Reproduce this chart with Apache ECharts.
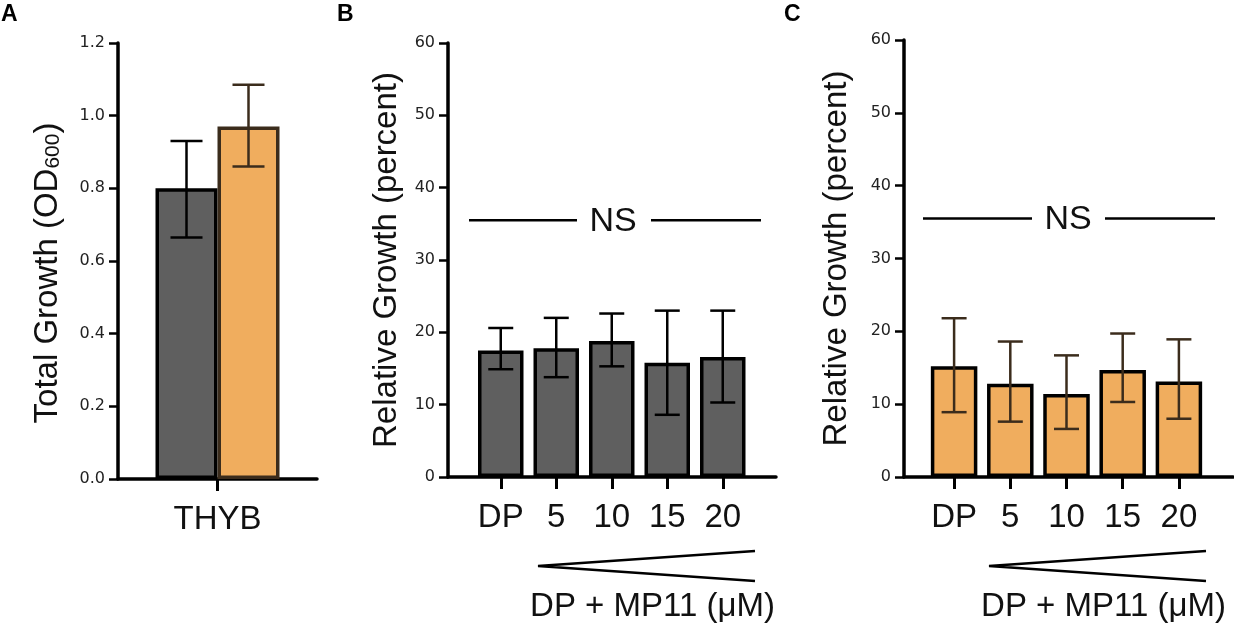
<!DOCTYPE html>
<html>
<head>
<meta charset="utf-8">
<title>MP11 growth</title>
<style>
    html, body { margin: 0; padding: 0; background: #fff; }
    #chart { width: 1234px; height: 629px; }
</style>
</head>
<body>
<div id="chart"></div>
<script src="https://cdn.jsdelivr.net/npm/echarts@6/dist/echarts.min.js"></script>
<script>
    // panel A: total growth
    var catA = ['THYB'];
    var totalDark = [0.80];
    var totalDarkLow = [0.665];
    var totalDarkHigh = [0.93];
    var totalOrange = [0.97];
    var totalOrangeLow = [0.86];
    var totalOrangeHigh = [1.085];

    // panels B and C: relative growth
    var concLabels = ['DP', '5', '10', '15', '20'];
    var relDark = [17.5, 17.8, 18.8, 15.8, 16.6];
    var relDarkLow = [14.9, 13.8, 15.3, 8.6, 10.3];
    var relDarkHigh = [20.6, 22.0, 22.6, 23.0, 23.0];
    var relOrange = [15.2, 12.8, 11.4, 14.7, 13.1];
    var relOrangeLow = [8.9, 7.6, 6.6, 10.3, 8.0];
    var relOrangeHigh = [21.8, 18.6, 16.7, 19.7, 18.9];
    var nsLevel = 35.5;

    var DARK = '#5f5f5f';
    var ORANGE = '#f0ad5e';
    var BROWN = '#3b2c1c';
    var BIG = 'Liberation Sans, Arial, sans-serif';
    var SMALL = 'DejaVu Sans, Verdana, sans-serif';

    var chart = echarts.init(document.getElementById('chart'));

    function valueAxis(grid, max, step, fmt, name, nameGap, pad) {
        return {
            type: 'value', gridIndex: grid, min: 0, max: max, interval: step,
            splitLine: {show: false},
            axisLine: {show: true, lineStyle: {color: '#000', width: 3.5}},
            axisTick: {show: true, length: 9, lineStyle: {color: '#000', width: 2.5}},
            axisLabel: {margin: 13, fontFamily: SMALL, fontSize: 16, color: '#222', formatter: fmt},
            name: name, nameLocation: 'middle', nameGap: nameGap, nameRotate: 90,
            nameTextStyle: {
                fontFamily: BIG, fontSize: 33, color: '#111', padding: pad || 0,
                rich: {
                    a: {fontFamily: BIG, fontSize: 33, color: '#111'},
                    s: {fontFamily: BIG, fontSize: 21, color: '#111', verticalAlign: 'bottom'}
                }
            }
        };
    }
    function hiddenY(grid, max) {
        return {type: 'value', gridIndex: grid, min: 0, max: max, show: false};
    }
    // x axis that only draws the long base line
    function frameX(grid) {
        return {
            type: 'category', gridIndex: grid, data: [''],
            axisLine: {lineStyle: {color: '#000', width: 3.5}},
            axisTick: {show: false}, axisLabel: {show: false}
        };
    }
    function catX(grid, data, showLine) {
        return {
            type: 'category', gridIndex: grid, data: data,
            axisLine: {show: showLine, lineStyle: {color: '#000', width: 3.5}},
            axisTick: {show: true, alignWithLabel: true, length: 12, lineStyle: {color: '#000', width: 3}},
            axisLabel: {interval: 0, margin: 24, fontFamily: BIG, fontSize: 33, color: '#111'}
        };
    }
    function errorBars(offset, capHalf, color) {
        return function (params, api) {
            var i = api.value(0);
            var hi = api.coord([i, api.value(2)]);
            var lo = api.coord([i, api.value(1)]);
            var x = hi[0] + offset;
            var st = {stroke: color, lineWidth: 2.5};
            return {
                type: 'group', children: [
                    {type: 'line', shape: {x1: x, y1: hi[1], x2: x, y2: lo[1]}, style: st},
                    {type: 'line', shape: {x1: x - capHalf, y1: hi[1], x2: x + capHalf, y2: hi[1]}, style: st},
                    {type: 'line', shape: {x1: x - capHalf, y1: lo[1], x2: x + capHalf, y2: lo[1]}, style: st}
                ]
            };
        };
    }
    function errData(low, high) {
        return low.map(function (v, i) { return [i, v, high[i]]; });
    }

    var barWA = 62;

    var option = {
        animation: false,
        grid: [
            {left: 118, top: 43, width: 199, height: 436},
            {left: 448, top: 43, width: 328, height: 434},
            {left: 473, top: 43, width: 277.5, height: 434},
            {left: 904, top: 40, width: 329, height: 437},
            {left: 926, top: 40, width: 281, height: 437}
        ],
        xAxis: [
            catX(0, catA, true),
            frameX(1),
            catX(2, concLabels, false),
            frameX(3),
            catX(4, concLabels, false)
        ],
        yAxis: [
            valueAxis(0, 1.2, 0.2, function (v) { return v.toFixed(1); },
                '{a|Total Growth (OD}{s|600}{a|)}', 54, [0, 24, 0, 0]),
            valueAxis(1, 60, 10, null, 'Relative Growth (percent)', 45),
            hiddenY(2, 60),
            valueAxis(3, 60, 10, null, 'Relative Growth (percent)', 51),
            hiddenY(4, 60)
        ],
        series: [
            {
                type: 'bar', xAxisIndex: 0, yAxisIndex: 0, data: totalDark,
                barWidth: barWA, barGap: '0%',
                itemStyle: {color: DARK, borderColor: '#000', borderWidth: 3.5}
            },
            {
                type: 'bar', xAxisIndex: 0, yAxisIndex: 0, data: totalOrange,
                barWidth: barWA, barGap: '0%',
                itemStyle: {color: ORANGE, borderColor: BROWN, borderWidth: 3.5}
            },
            {
                type: 'custom', xAxisIndex: 0, yAxisIndex: 0, z: 5,
                data: errData(totalDarkLow, totalDarkHigh),
                encode: {x: 0, y: [1, 2]},
                renderItem: errorBars(-barWA / 2, 16, '#000')
            },
            {
                type: 'custom', xAxisIndex: 0, yAxisIndex: 0, z: 5,
                data: errData(totalOrangeLow, totalOrangeHigh),
                encode: {x: 0, y: [1, 2]},
                renderItem: errorBars(barWA / 2, 16, BROWN)
            },
            {
                type: 'bar', xAxisIndex: 2, yAxisIndex: 2, data: relDark, barWidth: 45.5,
                itemStyle: {color: DARK, borderColor: '#000', borderWidth: 3.5}
            },
            {
                type: 'custom', xAxisIndex: 2, yAxisIndex: 2, z: 5,
                data: errData(relDarkLow, relDarkHigh),
                encode: {x: 0, y: [1, 2]},
                renderItem: errorBars(0, 12.5, '#000')
            },
            {
                type: 'bar', xAxisIndex: 4, yAxisIndex: 4, data: relOrange, barWidth: 46.5,
                itemStyle: {color: ORANGE, borderColor: '#000', borderWidth: 3.5}
            },
            {
                type: 'custom', xAxisIndex: 4, yAxisIndex: 4, z: 5,
                data: errData(relOrangeLow, relOrangeHigh),
                encode: {x: 0, y: [1, 2]},
                renderItem: errorBars(0, 12.5, BROWN)
            }
        ]
    };
    chart.setOption(option);

    // annotations: NS bars, concentration wedge, panel letters
    var nsYB = chart.convertToPixel({yAxisIndex: 1}, nsLevel);
    var nsYC = chart.convertToPixel({yAxisIndex: 3}, nsLevel);
    var lineSt = {stroke: '#000', lineWidth: 2.5};

    function nsGroup(x1, x2, x3, x4, xt, y) {
        return [
            {type: 'line', shape: {x1: x1, y1: y, x2: x2, y2: y}, style: lineSt},
            {type: 'line', shape: {x1: x3, y1: y, x2: x4, y2: y}, style: lineSt},
            {type: 'text', x: xt, y: y + 1, style: {text: 'NS', font: '34px ' + BIG, fill: '#111', align: 'center', verticalAlign: 'middle'}}
        ];
    }
    function wedge(tipX, rightX, y) {
        return [
            {type: 'polyline', shape: {points: [[rightX, y - 15], [tipX, y], [rightX, y + 15]]}, style: {stroke: '#000', lineWidth: 2.5, fill: null}},
            {type: 'text', x: (tipX + rightX) / 2 + 6, y: 607, style: {text: 'DP + MP11 (μM)', font: '33px ' + BIG, fill: '#111', align: 'center', verticalAlign: 'middle'}}
        ];
    }
    function letter(t, x) {
        return {type: 'text', x: x, y: 15, style: {text: t, font: 'bold 23px ' + BIG, fill: '#000', verticalAlign: 'middle'}};
    }

    var g = [].concat(
        nsGroup(469, 577, 651, 761, 613, nsYB),
        nsGroup(923, 1032, 1105, 1215, 1068, nsYC),
        wedge(538, 755, 566),
        wedge(989, 1206, 566),
        [letter('A', 1), letter('B', 337), letter('C', 784)]
    );
    chart.setOption({graphic: g});
</script>
</body>
</html>
